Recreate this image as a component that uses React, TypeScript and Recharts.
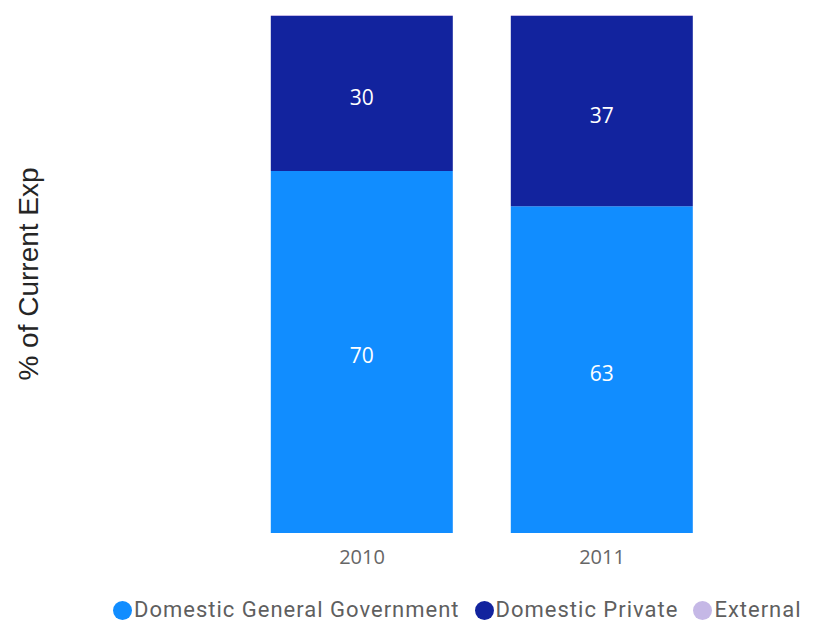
import { BarChart, Bar, XAxis, YAxis, Legend, LabelList } from "recharts";

const years = ["2010", "2011"];
const generalGov = [69.9, 63.1];
const domesticPrivate = [29.9, 36.7];
const external = [0.2, 0.2];

const seriesInfo = [
  { key: "gov", name: "Domestic General Government", color: "#118DFF" },
  { key: "priv", name: "Domestic Private", color: "#12239E" },
  { key: "ext", name: "External", color: "#C5B8E6" },
];

const data = years.map((year, i) => ({
  year,
  gov: generalGov[i],
  priv: domesticPrivate[i],
  ext: external[i],
}));

const labelFont = "'Segoe UI', 'Open Sans', 'Noto Sans', sans-serif";

function LegendContent() {
  return (
    <div
      style={{
        display: "flex",
        alignItems: "center",
        height: 22,
        paddingLeft: 113,
        gap: 15,
        fontFamily: "'DIN', 'Roboto', sans-serif",
        fontSize: 22,
        letterSpacing: 1,
        lineHeight: "22px",
        color: "#5F5F5F",
        whiteSpace: "nowrap",
      }}
    >
      {seriesInfo.map((s) => (
        <div key={s.key} style={{ display: "flex", alignItems: "center" }}>
          <span
            style={{
              display: "inline-block",
              width: 19,
              height: 19,
              borderRadius: "50%",
              background: s.color,
              marginRight: 2,
            }}
          />
          <span>{s.name}</span>
        </div>
      ))}
    </div>
  );
}

const fmt = (v: unknown) => Math.round(Number(v)).toString();

export default function App() {
  return (
    <div style={{ position: "absolute", left: 0, top: 0, background: "#fff" }}>
      <BarChart
        width={825}
        height={624}
        data={data}
        margin={{ top: 15, right: 103, bottom: 0, left: 0 }}
        barCategoryGap="12%"
      >
        <XAxis
          dataKey="year"
          axisLine={false}
          tickLine={false}
          tickSize={0}
          tickMargin={17}
          height={69}
          tick={{ fill: "#666666", fontSize: 20, fontFamily: labelFont }}
        />
        <YAxis
          domain={[0, 100]}
          width={242}
          axisLine={false}
          tickLine={false}
          tick={false}
          label={{
            value: "% of Current Exp",
            angle: -90,
            position: "center",
            dx: -93,
            fill: "#252525",
            fontSize: 28,
            fontFamily: "'Liberation Sans', Arial, sans-serif",
          }}
        />
        <Legend
          verticalAlign="bottom"
          height={22}
          content={<LegendContent />}
          wrapperStyle={{ left: 0, width: 825, top: 599, bottom: "auto", height: 22 }}
        />
        <Bar dataKey="gov" name={seriesInfo[0].name} stackId="a" fill={seriesInfo[0].color} isAnimationActive={false}>
          <LabelList dataKey="gov" position="center" formatter={fmt} fill="#FFFFFF" fontSize={21} fontFamily={labelFont} dy={4} />
        </Bar>
        <Bar dataKey="priv" name={seriesInfo[1].name} stackId="a" fill={seriesInfo[1].color} isAnimationActive={false}>
          <LabelList dataKey="priv" position="center" formatter={fmt} fill="#FFFFFF" fontSize={21} fontFamily={labelFont} dy={4} />
        </Bar>
        <Bar dataKey="ext" name={seriesInfo[2].name} stackId="a" fill={seriesInfo[2].color} isAnimationActive={false} />
      </BarChart>
    </div>
  );
}
